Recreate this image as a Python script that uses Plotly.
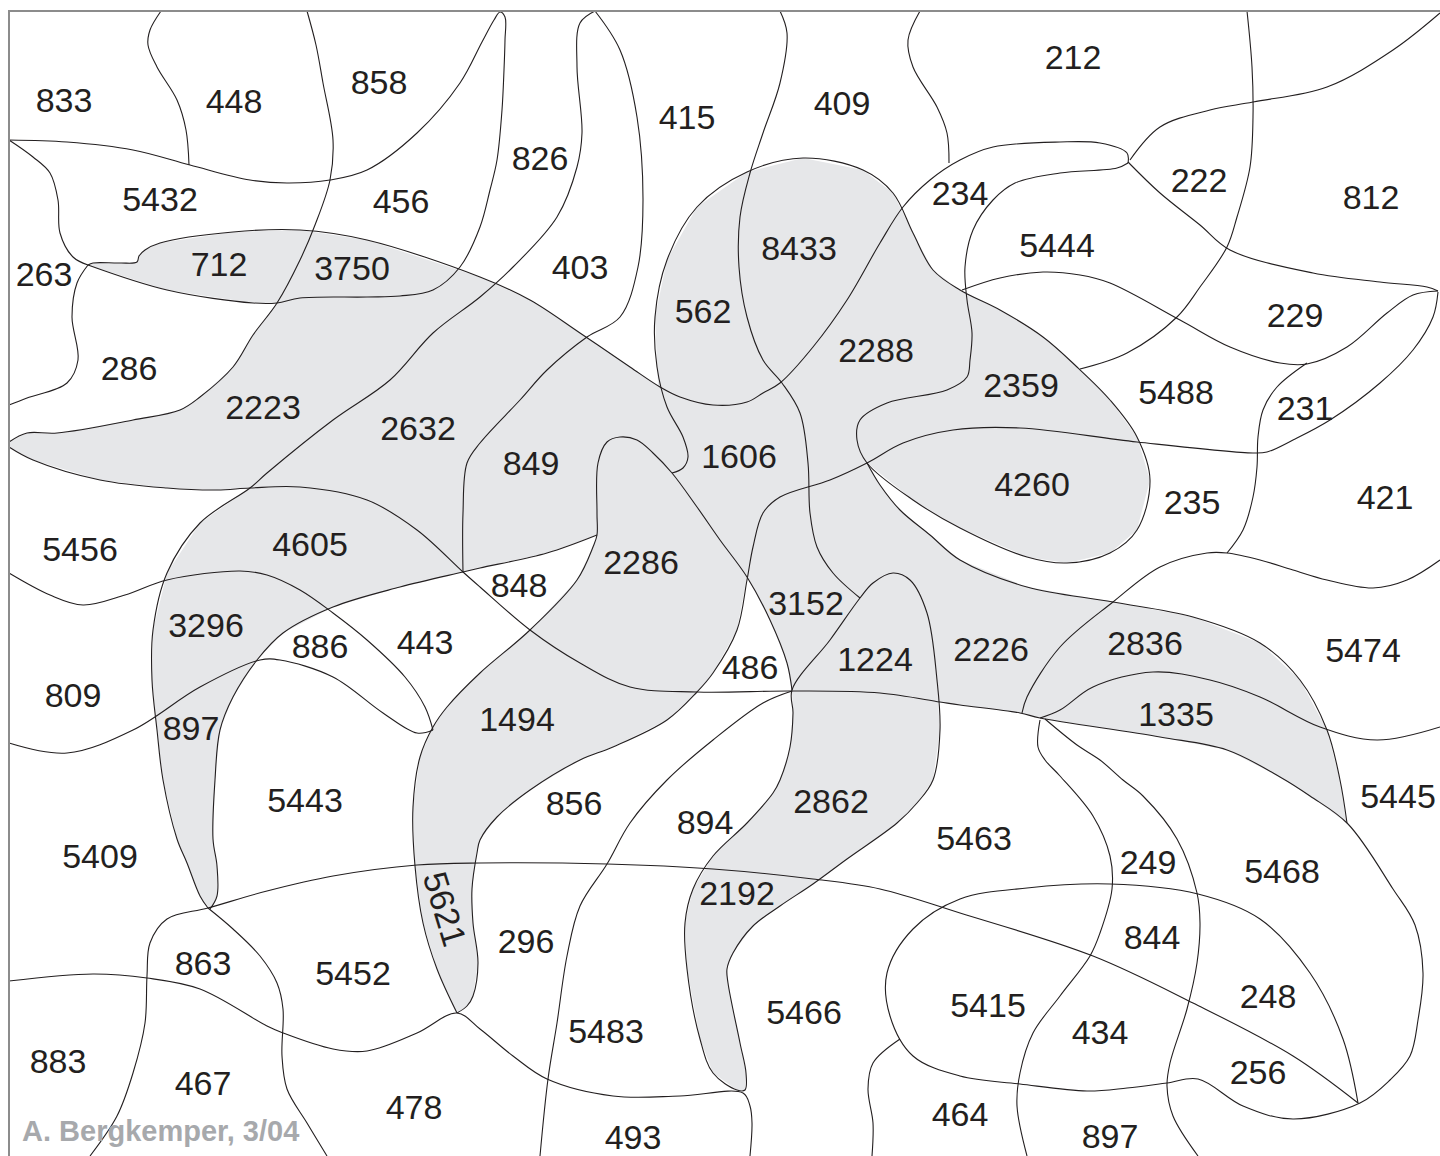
import plotly.graph_objects as go

# ---------------- region labels ----------------
LABEL_TEXT = ["833", "448", "858", "826", "415", "409", "212", "222", "812",
              "5432", "456", "234", "5444", "263", "712", "3750", "403", "8433",
              "562", "229", "286", "2288", "2359", "5488", "231", "2223", "2632",
              "849", "1606", "4260", "235", "421", "5456", "4605", "2286", "848",
              "3152", "3296", "886", "443", "486", "1224", "2226", "2836", "5474",
              "809", "897", "1494", "1335", "5443", "856", "894", "2862", "5445",
              "5409", "5463", "249", "5468", "2192", "296", "844", "863", "5452",
              "248", "5415", "5483", "5466", "434", "883", "467", "256", "478",
              "464", "897", "493"]
LABEL_X = [64, 234, 379, 540, 687, 842, 1073, 1199, 1371,
           160, 401, 960, 1057, 44, 219, 352, 580, 799,
           703, 1295, 129, 876, 1021, 1176, 1305, 263, 418,
           531, 739, 1032, 1192, 1385, 80, 310, 641, 519,
           806, 206, 320, 425, 750, 875, 991, 1145, 1363,
           73, 191, 517, 1176, 305, 574, 705, 831, 1398,
           100, 974, 1148, 1282, 737, 526, 1152, 203, 353,
           1268, 988, 606, 804, 1100, 58, 203, 1258, 414,
           960, 1110, 633]
LABEL_Y = [100, 101, 82, 158, 117, 103, 57, 180, 197,
           199, 201, 193, 245, 274, 264, 268, 267, 248,
           311, 315, 368, 350, 385, 392, 408, 407, 428,
           463, 456, 484, 502, 497, 549, 544, 562, 585,
           603, 625, 646, 642, 667, 659, 649, 643, 650,
           695, 728, 719, 714, 800, 803, 822, 801, 796,
           856, 838, 862, 871, 893, 941, 937, 963, 973,
           996, 1005, 1031, 1012, 1032, 1061, 1083, 1072, 1107,
           1114, 1136, 1137]
ROTATED_TEXT = "5621"
ROTATED_XY = (445, 909)
ROTATED_ANGLE = 73
SIGNATURE = "A. Bergkemper, 3/04"

# ---------------- frame ----------------
FRAME = [(9, 1156), (9, 11), (1440, 11)]

# ---------------- boundary curves ----------------
C_L1 = [(161, 11), (150, 30), (148, 45), (157, 67), (177, 100), (186, 130), (189, 165)]
C_L2 = [(9, 140), (67, 142), (133, 150), (190, 165), (250, 180), (287, 183), (330, 180),
        (367, 170), (417, 133), (460, 83), (482, 42), (494, 20), (500, 12), (505, 17),
        (505, 40), (504, 70), (502, 110), (497, 160), (490, 190), (480, 227), (460, 267),
        (433, 290), (400, 296), (367, 297), (300, 298), (277, 303), (253, 303), (167, 290),
        (88, 265)]
C_L3 = [(9, 140), (33, 157), (50, 173), (58, 200), (60, 233), (73, 257), (88, 265)]
C_L4 = [(88, 265), (77, 283), (72, 317), (78, 360), (67, 383), (27, 398), (9, 405)]
C_858 = [(307, 11), (316, 45), (323, 83), (333, 140), (330, 180), (315, 225), (300, 260),
         (277, 303), (253, 335), (233, 367), (200, 397), (180, 410), (133, 420), (57, 433),
         (27, 433), (9, 442)]
C_712TOP = [(1128, 163), (1127, 153), (1100, 143), (1060, 142), (993, 147), (960, 160),
            (930, 180), (903, 207), (880, 243), (847, 300), (813, 347), (780, 383),
            (763, 393), (747, 402), (713, 405), (680, 397), (660, 387), (630, 367),
            (580, 333), (530, 300), (480, 277), (367, 240), (300, 230), (233, 232),
            (160, 243), (145, 250), (139, 256), (137, 262), (120, 263), (93, 263), (88, 265)]
C_234IN = [(1128, 163), (1117, 168), (1060, 173), (1015, 183), (993, 200), (973, 230),
           (965, 267), (967, 300), (972, 333), (970, 360), (967, 377), (947, 390),
           (887, 403), (860, 420), (857, 440), (867, 463), (913, 500), (960, 528),
           (1027, 557), (1067, 563), (1110, 553), (1137, 530), (1150, 480), (1137, 437),
           (1110, 400), (1077, 367), (1043, 337), (1000, 310), (960, 290), (933, 270),
           (913, 233), (893, 193), (863, 170), (803, 158), (747, 172), (697, 207),
           (667, 260), (655, 317), (657, 367), (667, 407), (683, 437), (688, 457),
           (683, 468), (672, 473)]
C_5444 = [(962, 290), (1000, 278), (1043, 272), (1080, 275), (1110, 283), (1180, 320),
          (1230, 347), (1280, 363), (1307, 364), (1347, 347), (1387, 313), (1413, 295),
          (1438, 291)]
C_812 = [(1128, 162), (1160, 193), (1200, 225), (1230, 250), (1313, 273), (1380, 282),
         (1427, 287), (1438, 291)]
C_222TOP = [(1130, 160), (1160, 127), (1210, 110), (1253, 102), (1327, 87), (1393, 50),
            (1440, 13)]
C_1247 = [(1247, 11), (1252, 67), (1253, 117), (1250, 167), (1237, 217), (1227, 247),
          (1200, 287), (1177, 317), (1127, 353), (1080, 369)]
C_409 = [(920, 11), (908, 40), (913, 67), (937, 107), (947, 133), (949, 163)]
C_415 = [(780, 11), (787, 33), (780, 83), (763, 133), (750, 173), (740, 217), (739, 267),
         (747, 317), (763, 360), (782, 383), (800, 413), (808, 463), (810, 513),
         (817, 547), (833, 573), (860, 598)]
C_403L = [(595, 11), (580, 23), (577, 67), (582, 133), (577, 167), (557, 217), (513, 267),
          (480, 297), (433, 333), (390, 380), (333, 420), (267, 473), (250, 488),
          (200, 523), (167, 573), (153, 630), (152, 680), (157, 730), (163, 780),
          (177, 839), (187, 863), (200, 896), (208, 908)]
C_403R = [(595, 11), (620, 50), (637, 117), (643, 200), (638, 267), (620, 317), (587, 337),
          (547, 370), (520, 400), (480, 443), (467, 463), (463, 513), (463, 572)]
C_4605TOP = [(9, 447), (33, 460), (100, 480), (167, 488), (217, 490), (250, 488),
             (300, 487), (367, 500), (417, 530), (463, 572), (480, 587), (530, 630),
             (580, 663), (630, 687), (697, 692), (792, 691), (880, 693), (940, 702),
             (960, 705), (1020, 713), (1040, 718), (1160, 737), (1227, 750), (1280, 777),
             (1310, 796), (1348, 824), (1393, 889), (1415, 925), (1423, 973),
             (1418, 1020), (1410, 1056), (1390, 1080), (1360, 1103), (1293, 1119),
             (1243, 1106), (1198, 1079), (1167, 1083), (1127, 1088), (1087, 1091),
             (1020, 1084), (960, 1076), (913, 1056), (890, 1016), (887, 973), (913, 929),
             (960, 899), (1027, 888), (1110, 884), (1198, 894), (1260, 919), (1310, 973),
             (1343, 1039), (1358, 1103)]
C_886 = [(597, 535), (547, 553), (480, 568), (463, 572), (400, 587), (333, 607),
         (283, 633), (257, 660), (233, 697), (220, 730), (215, 780), (213, 839),
         (217, 866), (217, 896), (210, 909)]
C_2286 = [(792, 690), (787, 663), (770, 620), (747, 577), (720, 540), (697, 507),
          (672, 473), (653, 453), (637, 440), (620, 437), (607, 442), (598, 463),
          (597, 513), (597, 535), (593, 547), (577, 580), (530, 630), (480, 673),
          (447, 707), (433, 727), (420, 757), (413, 807), (415, 866), (423, 923),
          (437, 969), (457, 1013)]
C_5621R = [(457, 1013), (467, 1006), (473, 996), (478, 963), (473, 923), (472, 889),
           (477, 853), (480, 840), (497, 817), (530, 790), (580, 760), (613, 747),
           (667, 720), (697, 692), (713, 673), (737, 630), (747, 580), (753, 547),
           (763, 513), (780, 497), (830, 480), (867, 463), (903, 443), (953, 430),
           (1020, 428), (1137, 442), (1253, 453), (1267, 452), (1293, 440), (1330, 420),
           (1380, 383), (1413, 350), (1433, 317), (1438, 292)]
C_5452B = [(9, 981), (93, 974), (147, 978), (200, 989), (267, 1026), (283, 1033),
           (333, 1049), (367, 1051), (417, 1033), (457, 1013), (480, 1029), (513, 1056),
           (547, 1079), (613, 1096), (680, 1096), (743, 1093), (750, 1106), (752, 1123),
           (750, 1156)]
C_844 = [(1358, 1103), (1293, 1056), (1193, 1003), (1093, 956), (960, 913), (880, 889),
         (813, 879), (713, 869), (607, 864), (480, 863), (417, 865), (333, 876),
         (267, 891), (208, 908), (167, 919), (150, 943), (147, 976), (145, 1023),
         (133, 1073), (117, 1116), (90, 1156)]
C_863R = [(208, 908), (233, 929), (260, 956), (277, 983), (283, 1009), (282, 1056),
          (287, 1089), (307, 1123), (327, 1156)]
C_5483L = [(792, 691), (763, 703), (713, 740), (667, 780), (630, 823), (607, 864),
           (580, 906), (567, 956), (557, 1023), (548, 1079), (540, 1156)]
C_1224 = [(792, 690), (830, 640), (860, 598), (873, 583), (893, 573), (910, 580),
          (927, 613), (937, 680), (940, 730), (933, 780), (917, 803), (897, 823),
          (847, 859), (813, 884), (780, 906), (753, 926), (733, 953), (727, 969),
          (728, 983), (740, 1043), (746, 1073), (745, 1090), (737, 1090), (713, 1073),
          (700, 1039), (687, 969), (685, 923), (693, 889), (713, 856), (747, 823),
          (773, 793), (780, 780), (790, 747), (793, 713), (792, 690)]
C_2226TOP = [(867, 463), (880, 485), (900, 510), (930, 535), (960, 560), (1027, 587),
             (1113, 602), (1193, 617), (1260, 643), (1300, 680), (1327, 730),
             (1340, 780), (1347, 823)]
C_2836L = [(1022, 713), (1027, 697), (1060, 647), (1113, 602), (1160, 567), (1207, 553),
           (1227, 553), (1260, 560), (1293, 570), (1327, 580), (1373, 588), (1407, 580),
           (1440, 560)]
C_231L = [(1307, 363), (1277, 387), (1263, 410), (1258, 437), (1257, 467), (1253, 497),
          (1243, 530), (1227, 553)]
C_1335TOP = [(1040, 718), (1060, 710), (1093, 687), (1153, 672), (1210, 680), (1260, 697),
             (1320, 727), (1377, 740), (1440, 727)]
C_249L = [(1040, 720), (1038, 747), (1045, 760), (1060, 776), (1093, 816), (1110, 856),
          (1112, 889), (1100, 933), (1090, 956), (1060, 996), (1033, 1033), (1020, 1073),
          (1017, 1106), (1027, 1156)]
C_249R = [(1045, 719), (1077, 745), (1100, 760), (1123, 780), (1143, 796), (1177, 839),
          (1197, 893), (1200, 923), (1197, 963), (1187, 1009), (1170, 1063), (1167, 1086),
          (1173, 1116), (1198, 1156)]
C_464 = [(900, 1039), (873, 1063), (868, 1089), (873, 1123), (872, 1156)]
C_5456 = [(9, 573), (50, 595), (83, 605), (125, 595), (167, 580), (240, 571), (267, 575),
          (300, 590), (333, 613), (367, 640), (405, 677), (425, 707), (433, 730)]
C_809 = [(9, 743), (67, 753), (133, 730), (200, 687), (260, 660), (280, 660), (333, 677),
         (383, 713), (417, 733), (433, 730)]

CURVES = [C_L1, C_L2, C_L3, C_L4, C_858, C_712TOP, C_234IN, C_5444, C_812, C_222TOP,
          C_1247, C_409, C_415, C_403L, C_403R, C_4605TOP, C_886, C_2286, C_5621R,
          C_5452B, C_844, C_863R, C_5483L, C_1224, C_2226TOP, C_2836L, C_231L,
          C_1335TOP, C_249L, C_249R, C_464, C_5456, C_809]

# ---------------- shaded (grey) area outline ----------------
GREY_AREA = [
    (9, 442), (27, 433), (57, 433), (133, 420), (180, 410), (200, 397), (233, 367),
    (253, 335), (277, 303), (253, 303), (167, 290), (88, 265), (93, 263), (120, 263),
    (137, 262), (139, 256), (145, 250), (160, 243), (233, 232), (300, 230), (367, 240),
    (480, 277), (530, 300), (580, 333), (630, 367), (658, 385), (655, 317), (667, 260),
    (697, 207), (747, 172), (803, 158), (863, 170), (893, 193), (913, 233), (933, 270),
    (960, 290), (1000, 310), (1043, 337), (1077, 367), (1110, 400), (1137, 437),
    (1150, 480), (1137, 530), (1110, 553), (1067, 563), (1027, 557), (960, 528),
    (913, 500), (867, 463), (880, 485), (900, 510), (930, 535), (960, 560), (1027, 587),
    (1113, 602), (1193, 617), (1260, 643), (1300, 680), (1327, 730), (1340, 780),
    (1347, 823), (1310, 796), (1280, 777), (1227, 750), (1160, 737), (1040, 718),
    (1020, 713), (960, 705), (938, 702), (940, 730), (933, 780), (917, 803), (897, 823),
    (847, 859), (813, 884), (780, 906), (753, 926), (733, 953), (727, 969), (728, 983),
    (740, 1043), (746, 1073), (745, 1090), (737, 1090), (713, 1073), (700, 1039),
    (687, 969), (685, 923), (693, 889), (713, 856), (747, 823), (773, 793), (780, 780),
    (790, 747), (793, 713), (792, 691), (787, 663), (770, 620), (747, 577), (737, 630),
    (713, 673), (697, 692), (667, 720), (613, 747), (580, 760), (530, 790), (497, 817),
    (480, 840), (477, 853), (472, 889), (473, 923), (478, 963), (473, 996), (467, 1006),
    (457, 1013), (437, 969), (423, 923), (415, 866), (413, 807), (420, 757), (433, 727),
    (447, 707), (480, 673), (530, 630), (577, 580), (593, 547), (597, 535), (547, 553),
    (480, 568), (463, 572), (400, 587), (333, 607), (283, 633), (257, 660), (233, 697),
    (220, 730), (215, 780), (213, 839), (217, 866), (217, 896), (210, 909), (200, 896),
    (187, 863), (177, 839), (163, 780), (157, 730), (152, 680), (153, 630), (167, 573),
    (200, 523), (250, 488), (217, 490), (167, 488), (100, 480), (33, 460), (9, 447)]

GREY = "#e6e7e9"
INK = "#231f20"
TEXT_DY = 3  # vertical nudge so glyphs sit centred like the original

fig = go.Figure()

# grey fill
fig.add_trace(go.Scatter(
    x=[p[0] for p in GREY_AREA] + [GREY_AREA[0][0]],
    y=[p[1] for p in GREY_AREA] + [GREY_AREA[0][1]],
    mode="lines", fill="toself", fillcolor=GREY,
    line=dict(width=0, color=GREY, shape="linear"),
    hoverinfo="skip", showlegend=False))

# boundaries
for c in CURVES:
    fig.add_trace(go.Scatter(
        x=[p[0] for p in c], y=[p[1] for p in c], mode="lines",
        line=dict(color=INK, width=1.1, shape="spline", smoothing=1.0),
        hoverinfo="skip", showlegend=False))

# frame
fig.add_trace(go.Scatter(
    x=[p[0] for p in FRAME], y=[p[1] for p in FRAME], mode="lines",
    line=dict(color="#8c8c8c", width=2), hoverinfo="skip", showlegend=False))

# labels
fig.add_trace(go.Scatter(
    x=LABEL_X, y=[v + TEXT_DY for v in LABEL_Y], mode="text", text=LABEL_TEXT,
    textfont=dict(family="Liberation Sans, Arial, sans-serif", size=34, color=INK),
    textposition="middle center", hoverinfo="skip", showlegend=False))

fig.add_annotation(x=ROTATED_XY[0], y=ROTATED_XY[1], text=ROTATED_TEXT,
                   textangle=ROTATED_ANGLE, showarrow=False,
                   font=dict(family="Liberation Sans, Arial, sans-serif", size=34, color=INK))
fig.add_annotation(x=20, y=1131, text="<b>" + SIGNATURE + "</b>", xanchor="left",
                   yanchor="middle", showarrow=False,
                   font=dict(family="Liberation Sans, sans-serif",
                             size=29, color="#a7a9ac"))

fig.update_layout(
    width=1440, height=1156, margin=dict(l=0, r=0, t=0, b=0),
    paper_bgcolor="white", plot_bgcolor="white", hovermode=False,
    xaxis=dict(range=[0, 1440], visible=False, fixedrange=True),
    yaxis=dict(range=[1156, 0], visible=False, fixedrange=True),
)

fig.write_html("out.html", config={"displayModeBar": False},
               post_script="document.body.style.margin='0px';document.body.style.overflow='hidden';")
